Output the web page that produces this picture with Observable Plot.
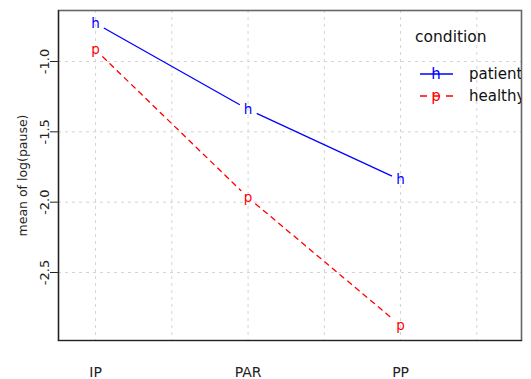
<!DOCTYPE html>
<html>
<head>
<meta charset="utf-8">
<script src="https://cdn.jsdelivr.net/npm/d3@7"></script>
<script src="https://cdn.jsdelivr.net/npm/@observablehq/plot@0.6"></script>
<style>
  html, body { margin: 0; padding: 0; background: #fff; }
  #wrap { position: relative; width: 531px; height: 379px; font-family: "DejaVu Sans", sans-serif; }
  #legend { position: absolute; left: 412px; top: 26px; width: 109px; height: 90px; overflow: hidden; color: #111; }
  #legend .title { position: absolute; left: 3px; top: 0px; font-size: 15.5px; line-height: 22px; }
  #legend .row { position: absolute; left: 0; height: 20px; }
  #legend .row svg { position: absolute; left: 8px; top: 0; }
  #legend .row span { position: absolute; left: 57px; top: 0; font-size: 15px; line-height: 20px; white-space: nowrap; }
</style>
</head>
<body>
<div id="wrap"></div>
<script>
// ---- data ----
const categories = ["IP", "PAR", "PP"];
const seriesNames = ["patient", "healthy"];
const seriesSymbols = ["h", "p"];
const seriesColors = ["#0000FF", "#FF0000"];
const patientValues = [-0.729, -1.341, -1.843];
const healthyValues = [-0.917, -1.967, -2.877];
const yTicks = [-1.0, -1.5, -2.0, -2.5];
const yLabel = "mean of log(pause)";
const legendTitle = "condition";

const seriesValues = [patientValues, healthyValues];
const points = [];
const segments = [];
seriesValues.forEach((vals, s) => {
  vals.forEach((v, i) => {
    points.push({series: seriesNames[s], sym: seriesSymbols[s], i, v});
    if (i < vals.length - 1) {
      segments.push({series: seriesNames[s], x1: i, y1: v, x2: i + 1, y2: vals[i + 1]});
    }
  });
});

const colorScale = {domain: seriesNames, range: seriesColors};

const chart = Plot.plot({
  width: 531,
  height: 379,
  marginLeft: 58,
  marginRight: 10,
  marginTop: 10,
  marginBottom: 39,
  style: {fontFamily: "DejaVu Sans, sans-serif", background: "#fff", color: "#222"},
  x: {type: "linear", domain: [-0.243, 2.793], axis: null},
  y: {type: "linear", domain: [-2.9834, -0.6375], axis: null},
  color: colorScale,
  marks: [
    Plot.gridX([0, 0.5, 1, 1.5, 2, 2.5], {stroke: "#d4d4d4", strokeOpacity: 1, strokeDasharray: "3,4"}),
    Plot.gridY(yTicks, {stroke: "#d4d4d4", strokeOpacity: 1, strokeDasharray: "3,4"}),
    Plot.axisX({ticks: [0, 1, 2], tickFormat: (i) => categories[i], tickSize: 0, tickPadding: 27, fontSize: 14, label: null}),
    Plot.axisY({ticks: yTicks, tickFormat: (d) => d.toFixed(1), tickSize: 8, tickRotate: -90, tickPadding: 2, fontSize: 13, label: null}),
    Plot.text([yLabel], {frameAnchor: "left", rotate: -90, dx: -35.5, textAnchor: "middle", lineAnchor: "middle", fontSize: 12.5, fill: "#222"}),
    Plot.arrow(segments.filter(d => d.series === "patient"), {x1: "x1", y1: "y1", x2: "x2", y2: "y2", stroke: "series", headLength: 0, inset: 10, strokeWidth: 1.3}),
    Plot.arrow(segments.filter(d => d.series === "healthy"), {x1: "x1", y1: "y1", x2: "x2", y2: "y2", stroke: "series", headLength: 0, inset: 10, strokeWidth: 1.3, strokeDasharray: "5,5"}),
    Plot.text(points, {x: "i", y: "v", text: "sym", fill: "series", fontSize: 13.5, textAnchor: "middle", lineAnchor: "middle"}),
    Plot.frame({stroke: "#666", strokeWidth: 1.6}),
    Plot.frame({anchor: "left", stroke: "#222", strokeWidth: 1.2}),
    Plot.frame({anchor: "bottom", stroke: "#222", strokeWidth: 1.2})
  ]
});

const wrap = document.getElementById("wrap");
wrap.appendChild(chart);

// legend overlay (clipped at the plot's right border, as in the reference)
const legend = document.createElement("div");
legend.id = "legend";
let html = `<div class="title">${legendTitle}</div>`;
seriesNames.forEach((name, s) => {
  const top = 38 + s * 22;
  const dash = s === 1 ? `stroke-dasharray="7,6"` : "";
  html += `<div class="row" style="top:${top}px">
    <svg width="34" height="20"><line x1="0" y1="10" x2="33" y2="10" stroke="${seriesColors[s]}" stroke-width="1.3" ${dash}/>
    <text x="16" y="10" dy="0.32em" text-anchor="middle" fill="${seriesColors[s]}" font-size="15" font-family="DejaVu Sans">${seriesSymbols[s]}</text></svg>
    <span>${name}</span></div>`;
});
legend.innerHTML = html;
wrap.appendChild(legend);
</script>
</body>
</html>
